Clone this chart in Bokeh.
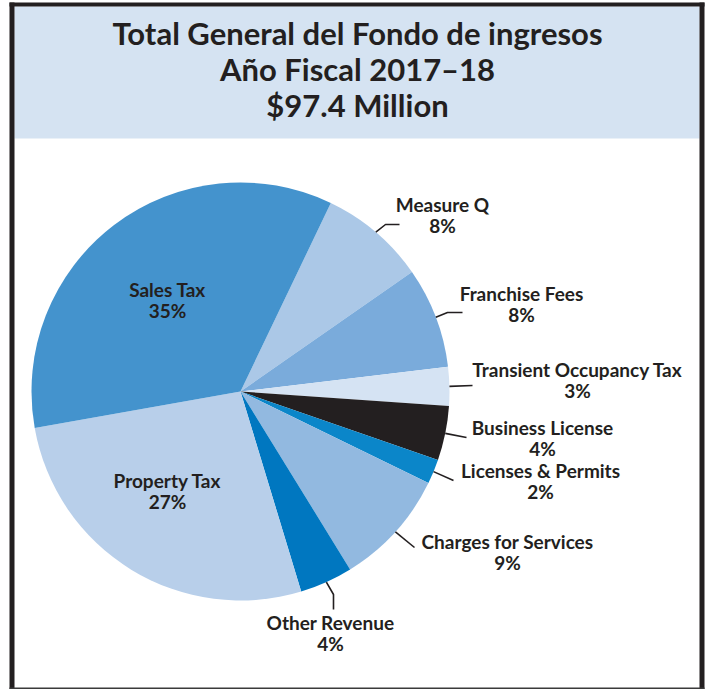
import math
from bokeh.plotting import figure
from bokeh.models import Range1d
from bokeh.core.properties import value
from bokeh.embed import file_html
from bokeh.resources import INLINE

# ---------------- data ----------------
categories = ["Measure Q", "Franchise Fees", "Transient Occupancy Tax",
              "Business License", "Licenses & Permits", "Charges for Services",
              "Other Revenue", "Property Tax", "Sales Tax"]
shares = [8.2, 7.8, 3.0, 4.2, 1.9, 9.0, 4.1, 26.9, 34.9]
pct_labels = ["8%", "8%", "3%", "4%", "2%", "9%", "4%", "27%", "35%"]
colors = ["#abc8e7", "#7aabdb", "#d5e3f3", "#231f20", "#0b86c9",
          "#92b9e0", "#0077c0", "#b8cfea", "#4493cd"]
title_lines = ["Total General del Fondo de ingresos",
               "Año Fiscal 2017–18",
               "$97.4 Million"]

# ---------------- layout helpers (picture pixel -> data) ----------------
W, H = 705, 689
def X(px):
    return px
def Y(py):
    return H - py

INK = "#231f20"
LABEL_FONT = value("Lato")

p = figure(width=W, height=H, output_backend="svg", toolbar_location=None,
           x_range=Range1d(0, W), y_range=Range1d(0, H), min_border=0)
p.axis.visible = False
p.grid.visible = False
p.outline_line_color = None
p.background_fill_color = "white"
p.border_fill_color = "white"

# header band
p.quad(left=[X(14)], right=[X(699)], top=[Y(6)], bottom=[Y(138)],
       fill_color="#d5e3f2", line_color=None)
# frame
p.quad(left=[X(9), X(699), X(9)], right=[X(14), X(704), X(704)],
       top=[Y(2), Y(2), Y(2)], bottom=[Y(689), Y(689), Y(6)],
       fill_color=INK, line_color=None)
p.quad(left=[X(9)], right=[X(704)], top=[Y(687)], bottom=[Y(689)],
       fill_color="#3a3a3a", line_color=None)

# title
title_baselines = [32, 68, 104]
p.text(x=[X(357)] * 3, y=[Y(b) for b in title_baselines], text=title_lines,
       text_font=LABEL_FONT, text_font_style="bold", text_font_size="31px",
       text_align="center", text_baseline="alphabetic", text_color=INK)

# pie
cx, cy, R = X(240), Y(391), 209
start_deg = 64.4
starts, ends = [], []
a = start_deg
for s in shares:
    b = a - s * 3.6
    starts.append(math.radians(b))
    ends.append(math.radians(a))
    a = b
p.wedge(x=cx, y=cy, radius=R, start_angle=starts, end_angle=ends,
        fill_color=colors, line_color=None)

# label positions (picture px): centre x, name baseline
label_pos = [(442, 204), (521, 293), (577, 369), (542, 427), (540, 470),
             (507, 541), (330, 622), (167, 480), (167, 289)]
names_x = [X(lx) for lx, _ in label_pos]
names_y = [Y(ly) for _, ly in label_pos]
pct_y = [Y(ly + 21) for _, ly in label_pos]
p.text(x=names_x, y=names_y, text=categories, text_font=LABEL_FONT,
       text_font_style="bold", text_font_size="19px", text_align="center",
       text_baseline="alphabetic", text_color=INK)
p.text(x=names_x, y=pct_y, text=pct_labels, text_font=LABEL_FONT,
       text_font_style="bold", text_font_size="19px", text_align="center",
       text_baseline="alphabetic", text_color=INK)

# leader lines: from slice mid-angle on the rim to the label (picture px bends)
leader_bends = [[(385, 224), (399, 224)],
                [(447, 312), (462, 312)],
                [(472, 385)],
                [(466, 437)],
                [(453, 480)],
                [(414, 547)],
                [(333, 594), (333, 609)]]
xs, ys = [], []
for i, bends in enumerate(leader_bends):
    mid = (starts[i] + ends[i]) / 2
    lx = [cx + R * math.cos(mid)] + [X(bx) for bx, _ in bends]
    ly = [cy + R * math.sin(mid)] + [Y(by) for _, by in bends]
    xs.append(lx)
    ys.append(ly)
p.multi_line(xs=xs, ys=ys, line_color=INK, line_width=1.6)

open("out.html", "w").write(file_html(p, INLINE))
